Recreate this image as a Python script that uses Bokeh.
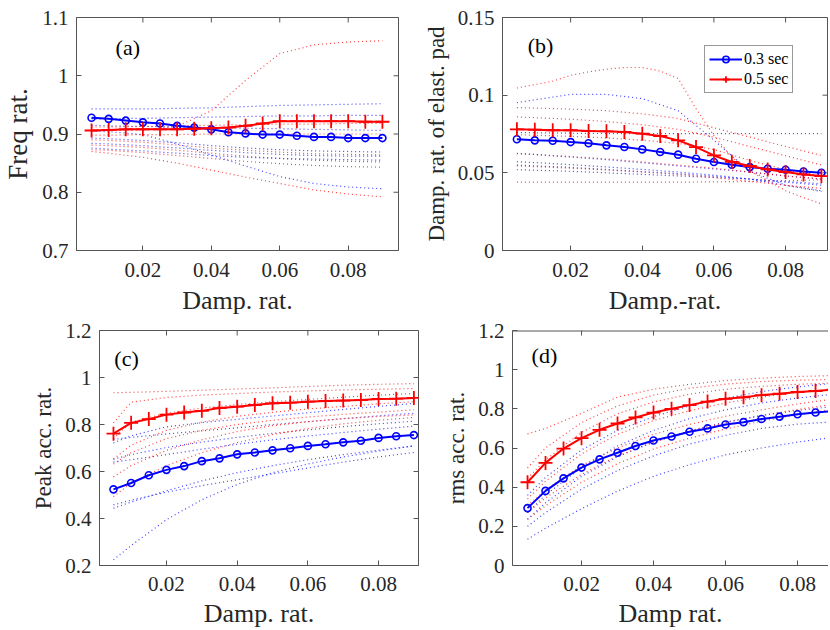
import math
from bokeh.plotting import figure
from bokeh.models import (Range1d, FixedTicker, CustomJSTickFormatter,
                          Label, Legend, LegendItem)
from bokeh.layouts import column, row
from bokeh.embed import file_html
from bokeh.resources import INLINE

# ---------------- data ----------------
X = [0.005, 0.01, 0.015, 0.02, 0.025, 0.03, 0.035, 0.04, 0.045, 0.05,
     0.055, 0.06, 0.065, 0.07, 0.075, 0.08, 0.085, 0.09]
XD = [0.005, 0.01, 0.02, 0.03, 0.04, 0.05, 0.06, 0.07, 0.08, 0.09]

# (a) Freq rat.
a_blue = [0.928, 0.926, 0.923, 0.920, 0.918, 0.914, 0.911, 0.908, 0.903, 0.901,
          0.899, 0.899, 0.897, 0.895, 0.895, 0.893, 0.893, 0.893]
a_red = [0.906, 0.907, 0.908, 0.908, 0.908, 0.908, 0.909, 0.910, 0.911, 0.914,
         0.918, 0.922, 0.922, 0.922, 0.922, 0.922, 0.921, 0.921]
a_blue_dot = [
    [0.943, 0.943, 0.943, 0.944, 0.945, 0.947, 0.949, 0.950, 0.951, 0.952],
    [0.926, 0.926, 0.927, 0.928, 0.929, 0.930, 0.931, 0.931, 0.932, 0.932],
    [0.915, 0.914, 0.913, 0.912, 0.911, 0.910, 0.909, 0.908, 0.907, 0.906],
    [0.905, 0.904, 0.899, 0.883, 0.864, 0.845, 0.827, 0.815, 0.809, 0.806],
    [0.893, 0.892, 0.889, 0.885, 0.880, 0.876, 0.873, 0.871, 0.870, 0.869],
    [0.884, 0.883, 0.880, 0.876, 0.872, 0.868, 0.865, 0.863, 0.862, 0.862],
    [0.876, 0.874, 0.871, 0.867, 0.863, 0.860, 0.858, 0.857, 0.856, 0.855],
]
a_red_dot = [
    [0.906, 0.906, 0.907, 0.913, 0.940, 0.992, 1.038, 1.053, 1.058, 1.060],
    [0.912, 0.912, 0.913, 0.914, 0.915, 0.916, 0.917, 0.917, 0.918, 0.918],
    [0.898, 0.898, 0.899, 0.899, 0.900, 0.900, 0.900, 0.900, 0.900, 0.900],
    [0.890, 0.889, 0.886, 0.881, 0.876, 0.872, 0.869, 0.866, 0.865, 0.864],
    [0.881, 0.880, 0.877, 0.872, 0.867, 0.862, 0.858, 0.855, 0.853, 0.852],
    [0.873, 0.872, 0.868, 0.863, 0.858, 0.853, 0.849, 0.846, 0.844, 0.843],
    [0.870, 0.867, 0.860, 0.850, 0.838, 0.826, 0.815, 0.804, 0.797, 0.792],
]

# (b) Damp. rat. of elast. pad
b_blue = [0.0716, 0.0709, 0.0707, 0.0698, 0.0690, 0.0677, 0.0666, 0.0651, 0.0634, 0.0617,
          0.0591, 0.0570, 0.0552, 0.0537, 0.0526, 0.0520, 0.0509, 0.0501]
b_red = [0.0780, 0.0778, 0.0774, 0.0774, 0.0769, 0.0767, 0.0763, 0.0752, 0.0737, 0.0709,
         0.0666, 0.0612, 0.0570, 0.0544, 0.0522, 0.0505, 0.0490, 0.0479]
b_red_hump = [0.1046, 0.1068, 0.1090, 0.1128, 0.1150, 0.1167, 0.1178, 0.1178, 0.1155, 0.1107,
              0.0913, 0.0740, 0.0600, 0.0510, 0.0450, 0.0385, 0.0340, 0.0300]
b_blue_dot = [
    [0.0952, 0.0970, 0.1005, 0.1005, 0.0978, 0.0900, 0.0710, 0.0510, 0.0420, 0.0380],
    [0.0760, 0.0758, 0.0755, 0.0753, 0.0752, 0.0752, 0.0752, 0.0752, 0.0752, 0.0752],
    [0.0625, 0.0618, 0.0602, 0.0585, 0.0565, 0.0545, 0.0525, 0.0505, 0.0480, 0.0460],
    [0.0572, 0.0566, 0.0553, 0.0538, 0.0522, 0.0505, 0.0485, 0.0460, 0.0420, 0.0385],
    [0.0550, 0.0545, 0.0535, 0.0522, 0.0508, 0.0495, 0.0478, 0.0460, 0.0440, 0.0420],
    [0.0520, 0.0517, 0.0510, 0.0500, 0.0490, 0.0480, 0.0470, 0.0460, 0.0445, 0.0430],
]
b_red_dot = [
    [0.0920, 0.0917, 0.0910, 0.0900, 0.0880, 0.0850, 0.0790, 0.0730, 0.0670, 0.0612],
    [0.0860, 0.0855, 0.0845, 0.0830, 0.0810, 0.0780, 0.0730, 0.0670, 0.0610, 0.0550],
    [0.0745, 0.0742, 0.0735, 0.0725, 0.0710, 0.0690, 0.0650, 0.0580, 0.0520, 0.0480],
    [0.0623, 0.0618, 0.0605, 0.0590, 0.0570, 0.0550, 0.0530, 0.0505, 0.0480, 0.0460],
    [0.0545, 0.0540, 0.0530, 0.0518, 0.0505, 0.0490, 0.0470, 0.0445, 0.0420, 0.0400],
    [0.0440, 0.0440, 0.0440, 0.0440, 0.0440, 0.0440, 0.0442, 0.0445, 0.0450, 0.0455],
]

# (c) Peak acc. rat.
c_blue = [0.524, 0.551, 0.584, 0.607, 0.623, 0.644, 0.656, 0.673, 0.681, 0.690,
          0.699, 0.709, 0.716, 0.724, 0.731, 0.743, 0.750, 0.755]
c_red = [0.761, 0.807, 0.823, 0.842, 0.851, 0.858, 0.870, 0.876, 0.883, 0.890,
         0.893, 0.897, 0.900, 0.902, 0.904, 0.909, 0.910, 0.913]
c_blue_dot = [
    [0.722, 0.752, 0.790, 0.808, 0.822, 0.836, 0.850, 0.864, 0.877, 0.890],
    [0.737, 0.745, 0.760, 0.773, 0.786, 0.800, 0.812, 0.825, 0.837, 0.848],
    [0.653, 0.672, 0.702, 0.725, 0.745, 0.762, 0.777, 0.791, 0.803, 0.814],
    [0.640, 0.650, 0.672, 0.695, 0.716, 0.735, 0.751, 0.766, 0.780, 0.793],
    [0.458, 0.478, 0.512, 0.540, 0.565, 0.590, 0.615, 0.640, 0.662, 0.681],
    [0.444, 0.470, 0.518, 0.560, 0.595, 0.625, 0.650, 0.672, 0.691, 0.709],
    [0.224, 0.285, 0.395, 0.480, 0.545, 0.595, 0.632, 0.662, 0.687, 0.709],
]
c_red_dot = [
    [0.935, 0.937, 0.941, 0.946, 0.951, 0.956, 0.962, 0.967, 0.971, 0.974],
    [0.807, 0.895, 0.915, 0.925, 0.932, 0.938, 0.943, 0.947, 0.950, 0.953],
    [0.740, 0.810, 0.848, 0.870, 0.885, 0.897, 0.907, 0.916, 0.925, 0.932],
    [0.653, 0.712, 0.775, 0.810, 0.835, 0.852, 0.866, 0.877, 0.888, 0.897],
    [0.632, 0.680, 0.740, 0.775, 0.800, 0.818, 0.832, 0.843, 0.853, 0.862],
    [0.577, 0.625, 0.690, 0.735, 0.770, 0.795, 0.812, 0.825, 0.834, 0.841],
    [0.493, 0.550, 0.625, 0.680, 0.723, 0.757, 0.783, 0.803, 0.818, 0.830],
]

# (d) rms acc. rat.
d_blue = [0.293, 0.381, 0.445, 0.500, 0.542, 0.576, 0.610, 0.638, 0.659, 0.683,
          0.700, 0.720, 0.732, 0.748, 0.760, 0.772, 0.781, 0.789]
d_red = [0.425, 0.524, 0.597, 0.650, 0.693, 0.725, 0.756, 0.781, 0.800, 0.819,
         0.837, 0.851, 0.859, 0.870, 0.877, 0.886, 0.891, 0.898]
d_blue_dot = [
    [0.358, 0.450, 0.590, 0.690, 0.760, 0.815, 0.855, 0.888, 0.912, 0.931],
    [0.270, 0.360, 0.500, 0.610, 0.690, 0.750, 0.795, 0.830, 0.855, 0.875],
    [0.236, 0.320, 0.455, 0.555, 0.630, 0.688, 0.732, 0.766, 0.792, 0.812],
    [0.200, 0.270, 0.390, 0.485, 0.560, 0.620, 0.665, 0.700, 0.722, 0.734],
    [0.134, 0.190, 0.290, 0.380, 0.455, 0.515, 0.565, 0.600, 0.630, 0.655],
]
d_red_dot = [
    [0.672, 0.700, 0.777, 0.860, 0.900, 0.925, 0.945, 0.957, 0.965, 0.970],
    [0.498, 0.600, 0.730, 0.815, 0.870, 0.905, 0.926, 0.939, 0.946, 0.950],
    [0.445, 0.540, 0.680, 0.775, 0.835, 0.875, 0.900, 0.915, 0.925, 0.932],
    [0.340, 0.430, 0.570, 0.670, 0.740, 0.790, 0.830, 0.860, 0.885, 0.900],
    [0.305, 0.385, 0.510, 0.600, 0.670, 0.720, 0.762, 0.795, 0.825, 0.850],
    [0.270, 0.345, 0.465, 0.560, 0.630, 0.685, 0.730, 0.766, 0.797, 0.823],
    [0.236, 0.305, 0.425, 0.520, 0.595, 0.650, 0.697, 0.737, 0.770, 0.797],
]

x_ticks = [0.02, 0.04, 0.06, 0.08]
legend_labels = ["0.3 sec", "0.5 sec"]

# ---------------- styling ----------------
FONT = "Liberation Serif"
TXT = "#262626"
AX = "#555555"
BLUE = "#0000ff"
RED = "#ff0000"
FMT = "return String(parseFloat(tick.toFixed(4)));"


def style_axis(ax, ticks, label_size, tick_standoff, label_standoff):
    ax.ticker = FixedTicker(ticks=ticks)
    ax.formatter = CustomJSTickFormatter(code=FMT)
    ax.major_tick_in = 5
    ax.major_tick_out = 0
    ax.minor_tick_line_color = None
    ax.axis_line_color = AX
    ax.major_tick_line_color = AX
    ax.major_label_text_font = FONT
    ax.major_label_text_color = TXT
    ax.major_label_text_font_size = "21px"
    ax.major_label_standoff = tick_standoff
    ax.axis_label_text_font = FONT
    ax.axis_label_text_font_style = "normal"
    ax.axis_label_text_color = TXT
    ax.axis_label_text_font_size = label_size
    ax.axis_label_standoff = label_standoff


def panel(xr, yr, yticks, fw, fh, mbl, mbr, mbt, mbb, xlabel, ylabel, ylabel_size,
          x_standoffs, blue, red, blue_dot, red_dot, tag, tag_xy, full_box=True):
    p = figure(frame_width=fw, frame_height=fh, x_range=Range1d(*xr),
               y_range=Range1d(*yr), output_backend="svg", toolbar_location=None,
               min_border_left=mbl, min_border_right=mbr, min_border_top=mbt,
               min_border_bottom=mbb)
    p.xgrid.visible = False
    p.ygrid.visible = False
    p.background_fill_color = "white"
    p.border_fill_color = "white"
    style_axis(p.xaxis[0], x_ticks, "26px", x_standoffs[0], x_standoffs[1])
    style_axis(p.yaxis[0], yticks, ylabel_size, 8, 6)
    p.xaxis[0].axis_label = xlabel
    p.yaxis[0].axis_label = ylabel
    if full_box:
        p.outline_line_color = AX
        p.outline_line_width = 1
        # inward ticks on the right edge
        p.ray(x=[xr[1]] * len(yticks), y=yticks, length=5, length_units="screen",
              angle=math.pi, line_color=AX, line_width=1)
    else:
        p.outline_line_color = None
        p.ray(x=[xr[0]], y=[yr[1]], length=0, angle=0, line_color=AX, line_width=2)
    # inward ticks on the top edge
    p.ray(x=x_ticks, y=[yr[1]] * len(x_ticks), length=5, length_units="screen",
          angle=-math.pi / 2, line_color=AX, line_width=1)

    for ys in blue_dot:
        p.line(XD, ys, line_color=BLUE, line_width=1.2, line_dash="1 3", line_alpha=0.75)
    for xs, ys in red_dot:
        p.line(xs, ys, line_color=RED, line_width=1.2, line_dash="1 3", line_alpha=0.75)

    bl = p.line(X, blue, line_color=BLUE, line_width=2)
    bs = p.scatter(X, blue, marker="circle", size=7, line_color=BLUE, line_width=1.6,
                   fill_color=None)
    rl = p.line(X, red, line_color=RED, line_width=2)
    rs = p.scatter(X, red, marker="cross", size=14, line_color=RED, line_width=1.8)

    p.add_layout(Label(x=tag_xy[0], y=tag_xy[1], text=tag, text_font=FONT,
                       text_font_size="22px", text_color="black",
                       text_align="center", text_baseline="middle"))
    return p, (bl, bs, rl, rs)


pa, _ = panel((0.0006, 0.0947), (0.7, 1.1), [0.7, 0.8, 0.9, 1.0, 1.1],
              322, 233, 75, 10, 17, 66, "Damp. rat.", "Freq rat.", "27px", (12, 6),
              a_blue, a_red, a_blue_dot,
              [(XD, ys) for ys in a_red_dot], "(a)", (0.0156, 1.049))

pb, rr = panel((0.00098, 0.0917), (0.0, 0.15), [0.0, 0.05, 0.1, 0.15],
               325, 233, 94, 2, 17, 66, "Damp.-rat.", "Damp. rat. of elast. pad", "23px",
               (12, 6), b_blue, b_red, b_blue_dot,
               [(X, b_red_hump)] + [(XD, ys) for ys in b_red_dot],
               "(b)", (0.0116, 0.132))
legend = Legend(items=[LegendItem(label=legend_labels[0], renderers=[rr[0], rr[1]]),
                       LegendItem(label=legend_labels[1], renderers=[rr[2], rr[3]])],
                location=(202, 157))
legend.label_text_font = FONT
legend.label_text_font_size = "16px"
legend.label_text_color = "black"
legend.border_line_color = "#333333"
legend.border_line_width = 1
legend.background_fill_alpha = 1.0
legend.glyph_width = 33
legend.glyph_height = 16
legend.label_standoff = 2
legend.padding = 4
legend.spacing = 2
legend.margin = 0
legend.label_height = 16
pb.add_layout(legend)

pc, _ = panel((0.00105, 0.0913), (0.2, 1.2), [0.2, 0.4, 0.6, 0.8, 1.0, 1.2],
              319, 235, 99, 8, 13, 64, "Damp. rat.", "Peak acc. rat.", "23px", (11, 5),
              c_blue, c_red, c_blue_dot,
              [(XD, ys) for ys in c_red_dot], "(c)", (0.0087, 1.079))

pd, _ = panel((0.00083, 0.0886), (0.0, 1.2), [0.0, 0.2, 0.4, 0.6, 0.8, 1.0, 1.2],
              316, 235, 86, 0, 13, 64, "Damp rat.", "rms acc. rat.", "23px", (11, 5),
              d_blue, d_red, d_blue_dot,
              [(XD, ys) for ys in d_red_dot], "(d)", (0.0097, 1.074),
              full_box=False)

layout = column(row(pa, pb), row(pc, pd))
open("out.html", "w").write(file_html(layout, INLINE))
